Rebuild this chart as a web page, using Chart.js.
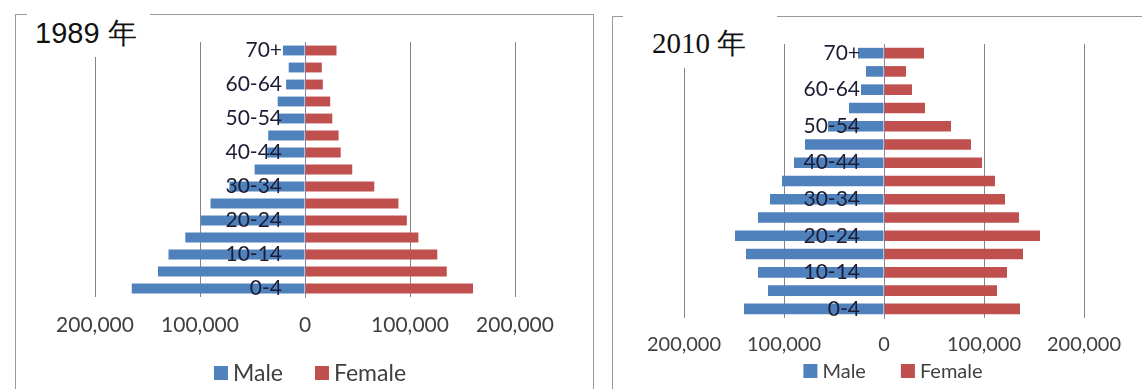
<!DOCTYPE html>
<html>
<head>
<meta charset="utf-8">
<script src="https://cdn.jsdelivr.net/npm/chart.js@4.4.1/dist/chart.umd.min.js"></script>
<style>
  body { margin: 0; width: 1142px; height: 389px; background: #fff; position: relative; overflow: hidden; }
  .frame { position: absolute; border: 1px solid #9a9a9a; }
  .cover { position: absolute; background: #fff; }
  .title { position: absolute; white-space: nowrap; color: #111; }
  canvas { position: absolute; }
</style>
</head>
<body>
<div class="frame" style="left:15px;top:14px;width:577px;height:420px"></div>
<div class="frame" style="left:612px;top:16px;width:600px;height:420px"></div>

<canvas id="pyramid1989" width="578" height="375" style="left:15px;top:14px"></canvas>
<canvas id="pyramid2010" width="530" height="373" style="left:612px;top:16px"></canvas>

<div class="cover" style="left:27px;top:5px;width:123px;height:52px"></div>
<div class="cover" style="left:623px;top:6px;width:154px;height:62px"></div>
<div class="title" style="left:35px;top:17px;font:29px/32px 'Liberation Sans', Arial, sans-serif">1989 年</div>
<div class="title" style="left:652px;top:26px;font:29px/34px 'Liberation Serif', 'Times New Roman', serif">2010 年</div>

<script>
// age bands, top of the pyramid first
const ageGroups = ["70+", "65-69", "60-64", "55-59", "50-54", "45-49", "40-44", "35-39",
  "30-34", "25-29", "20-24", "15-19", "10-14", "5-9", "0-4"];

const male1989 = [21000, 15500, 18000, 26000, 25000, 35000, 36000, 48000,
  72000, 90000, 99000, 114000, 130000, 140000, 165000];
const female1989 = [30000, 16000, 17000, 24000, 26000, 32000, 34000, 45000,
  66000, 89000, 97000, 108000, 126000, 135000, 160000];

const male2010 = [26000, 18000, 23000, 35000, 56000, 79000, 90000, 102000,
  114000, 126000, 149000, 138000, 126000, 116000, 140000];
const female2010 = [40000, 22000, 28000, 41000, 67000, 87000, 98000, 111000,
  121000, 135000, 156000, 139000, 123000, 113000, 136000];

const axisTicks = [-200000, -100000, 0, 100000, 200000];

const MALE_COLOR = "#4f81bd";
const FEMALE_COLOR = "#c0504d";

// age labels sit just left of the zero line, on top of the bars,
// only every second band gets one
const ageLabels = {
  id: "ageLabels",
  afterDatasetsDraw(chart, args, opts) {
    const { ctx } = chart;
    const { x, y } = chart.scales;
    const right = x.getPixelForValue(0) - opts.gap;
    ctx.save();
    ctx.font = "21px Lato";
    ctx.fillStyle = "#1c1c34";
    ctx.textAlign = "right";
    ctx.textBaseline = "middle";
    ageGroups.forEach((g, i) => {
      if (i % 2 === 0) ctx.fillText(g, right, y.getPixelForValue(i));
    });
    ctx.restore();
  },
};

// one-row legend under the axis, square swatch + name per dataset
const legendRow = {
  id: "legendRow",
  afterDraw(chart, args, opts) {
    const { ctx } = chart;
    const sets = chart.data.datasets;
    ctx.save();
    ctx.font = opts.size + "px Lato";
    ctx.textBaseline = "middle";
    ctx.textAlign = "left";
    const widths = sets.map((d) => opts.box + opts.textGap + ctx.measureText(d.label).width);
    const total = widths.reduce((a, b) => a + b, 0) + opts.itemGap * (sets.length - 1);
    let x = opts.cx - total / 2;
    sets.forEach((d, i) => {
      ctx.fillStyle = d.backgroundColor;
      ctx.fillRect(x, opts.cy - opts.box / 2, opts.box, opts.box);
      ctx.fillStyle = "#404040";
      ctx.fillText(d.label, x + opts.box + opts.textGap, opts.cy + 1);
      x += widths[i] + opts.itemGap;
    });
    ctx.restore();
  },
};

function makePyramid(id, male, female, o) {
  const ctx = document.getElementById(id).getContext("2d");
  return new Chart(ctx, {
    type: "bar",
    data: {
      labels: ageGroups,
      datasets: [
        {
          label: "Male",
          data: male.map((v) => -v), // males go to the left of the axis
          backgroundColor: MALE_COLOR,
          borderWidth: 0,
        },
        {
          label: "Female",
          data: female,
          backgroundColor: FEMALE_COLOR,
          borderWidth: 0,
        },
      ],
    },
    plugins: [ageLabels, legendRow],
    options: {
      indexAxis: "y",
      responsive: false,
      animation: false,
      layout: { padding: o.padding },
      datasets: {
        bar: { barPercentage: 0.58, categoryPercentage: 1 },
      },
      scales: {
        x: {
          stacked: true,
          min: -200000,
          max: 200000,
          afterBuildTicks: (scale) => {
            scale.ticks = axisTicks.map((v) => ({ value: v }));
          },
          afterFit: (scale) => {
            scale.height = o.xAxisHeight;
          },
          grid: {
            color: (c) => (c.tick && c.tick.value === 0 ? "rgba(0,0,0,0)" : "#858585"),
            drawTicks: false,
          },
          border: { display: false },
          ticks: {
            padding: o.xPad,
            color: "#404040",
            font: { family: "Lato", size: o.xFont },
            callback: (v) => Math.abs(v).toLocaleString("en-US"),
          },
        },
        y: {
          stacked: true,
          position: { x: 0 },
          z: 1,
          grid: { display: false },
          border: { color: "#8a82a8", width: 1 },
          ticks: { display: false },
        },
      },
      plugins: {
        legend: { display: false },
        tooltip: { enabled: false },
        ageLabels: { gap: o.labelGap },
        legendRow: o.legend,
      },
    },
  });
}

makePyramid("pyramid1989", male1989, female1989, {
  padding: { left: 80, right: 78, top: 28, bottom: 32 },
  xAxisHeight: 60, xPad: 16, xFont: 21,
  labelGap: 23,
  legend: { cx: 295, cy: 359, size: 23, box: 14, textGap: 5, itemGap: 32 },
});

makePyramid("pyramid2010", male2010, female2010, {
  padding: { left: 72, right: 58, top: 28, bottom: 26 },
  xAxisHeight: 45, xPad: 15, xFont: 20,
  labelGap: 24,
  legend: { cx: 281, cy: 355, size: 20, box: 14, textGap: 5, itemGap: 35 },
});
</script>
</body>
</html>
